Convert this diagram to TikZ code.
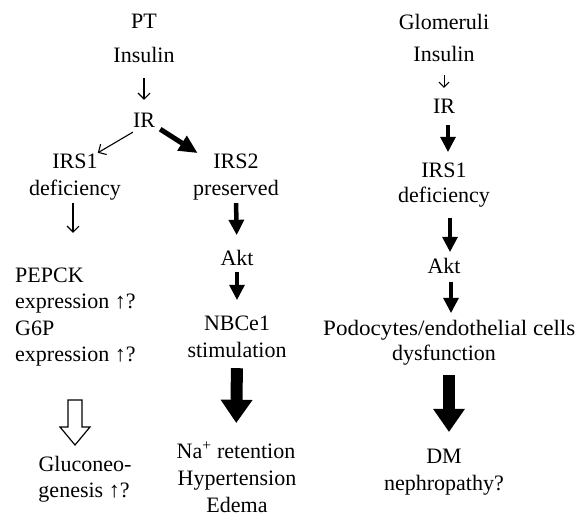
\documentclass[tikz,border=0pt]{standalone}
\usepackage{fontspec}
\usepackage{graphicx}
\setmainfont{Liberation Serif}
\usetikzlibrary{arrows.meta}
\begin{document}
\begin{tikzpicture}[x=1pt,y=-1pt,
  txt/.style={inner sep=0pt, text height=15pt, text depth=5pt, anchor=base, font=\fontsize{22}{27}\selectfont},
  ltxt/.style={txt, anchor=base west},
  thinarr/.style={line width=1.1pt, -{Straight Barb[length=6pt,width=12pt]}},
  thickarr/.style={line width=4.5pt, -{Triangle[length=15pt 0 0,width=16pt 0 0,line width=0pt]}},
  bigarr/.style={line width=12pt, -{Triangle[length=23pt 0 0,width=32pt 0 0,line width=0pt]}},
  hollowarr/.style={line width=1.2pt, line join=miter},
]
\fill[white] (0,0) rectangle (576,523);
\useasboundingbox (0,0) rectangle (576,523);

% Left column (PT)
\node[txt] (pt) at (144,28) {PT};
\node[txt] (ins1) at (144,62) {Insulin};
\node[txt] (ir1) at (144,127) {IR};
\node[txt] (irs1) at (75,168) {IRS1};
\node[txt] (def1) at (75,195) {deficiency};
\node[txt] (irs2) at (236,168) {IRS2};
\node[txt] (pres) at (236,195) {preserved};
\node[txt] (akt1) at (237,265) {Akt};
\node[txt] (nbc) at (237,330) {NBCe1};
\node[txt] (stim) at (237,357) {stimulation};
\node[txt] (na) at (236,458) {Na\textsuperscript{+} retention};
\node[txt] (hyp) at (237,485) {Hypertension};
\node[txt] (edema) at (237,512) {Edema};
\node[ltxt] (pepck) at (15,282) {PEPCK};
\node[ltxt] (exp1) at (15,308) {expression ↑?};
\node[ltxt] (g6p) at (15,335) {G6P};
\node[ltxt] (exp2) at (15,361) {expression ↑?};
\node[txt] (gluc) at (85,471) {Gluconeo-};
\node[txt] (gen) at (84,497) {genesis ↑?};

% Right column (Glomeruli)
\node[txt] (glom) at (444,29) {Glomeruli};
\node[txt] (ins2) at (444,61) {Insulin};
\node[txt] (ir2) at (444,113) {IR};
\node[txt] (irs1r) at (444,177) {IRS1};
\node[txt] (def2) at (444,202) {deficiency};
\node[txt] (akt2) at (444,273) {Akt};
\node[ltxt] (podo) at (323,335) {\scalebox{1.05}[1]{Podocytes/endothelial cells}};
\node[txt] (dysf) at (444,360) {dysfunction};
\node[txt] (dm) at (444,463) {DM};
\node[txt] (neph) at (444,490) {nephropathy?};

% Left connectors
\draw[thinarr, shorten <=11pt, shorten >=12pt] (ins1.south) -- (ir1.north);
\draw[thinarr] (ir1.south west) -- (irs1.north east);
\draw[line width=5pt, -{Triangle[length=18pt 0 0,width=18pt 0 0,line width=0pt]}]
  ([xshift=5pt,yshift=3pt]ir1.south east) -- ([xshift=-16pt]irs2.north west);
\draw[thinarr, shorten <=3pt, shorten >=34pt] ([xshift=-2pt]def1.south) -- ([xshift=-2pt]def1.south |- pepck.north);
\draw[thickarr, shorten <=3pt, shorten >=15pt] (pres.south) -- (akt1.north);
\draw[thickarr, shorten <=2pt, shorten >=15pt] (akt1.south) -- (nbc.north);
\draw[bigarr, shorten <=6pt, shorten >=20pt] (stim.south) -- (na.north);
\coordinate (h) at (75,400);
\draw[hollowarr] (h) ++(-7,0) -- ++(14,0) -- ++(0,27) -- ++(8,0) -- ++(-15,18) -- ++(-15,-18) -- ++(8,0) -- cycle;

% Right connectors
\draw[line width=1pt, -{Straight Barb[length=5pt,width=10pt]}, shorten <=9pt, shorten >=10pt] (ins2.south) -- (ir2.north);
\draw[thickarr, shorten <=7pt, shorten >=10pt] ([xshift=4pt]ir2.south) -- ([xshift=4pt]irs1r.north);
\draw[thickarr, shorten <=11pt, shorten >=6pt] ([xshift=6pt]def2.south) -- ([xshift=6pt]akt2.north);
\draw[thickarr, shorten <=4pt, shorten >=7pt] ([xshift=7pt]akt2.south) -- ([xshift=7pt]akt2.south |- podo.north);
\draw[bigarr, shorten <=10pt, shorten >=16pt] ([xshift=5pt]dysf.south) -- ([xshift=5pt]dm.north);
\end{tikzpicture}
\end{document}
